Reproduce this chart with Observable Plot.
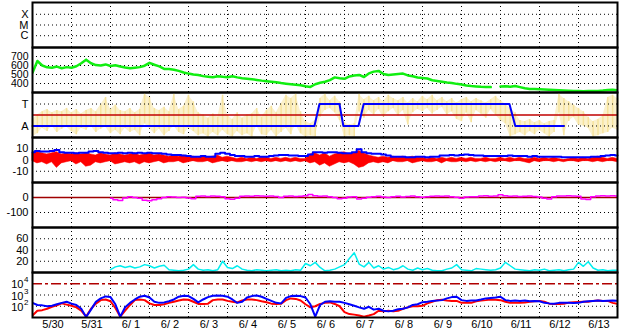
<!DOCTYPE html>
<html><head><meta charset="utf-8">
<script src="https://cdn.jsdelivr.net/npm/d3@7"></script>
<script src="https://cdn.jsdelivr.net/npm/@observablehq/plot@0.6"></script>
<style>
html,body{margin:0;padding:0;background:#fff;}
#chart{position:relative;width:628px;height:334px;overflow:hidden;background:#fff;}
#chart svg{position:absolute;left:0;}
</style></head><body><div id="chart"></div>
<script>
// ---- data (one sample every 3 hours from 5/30 00:00) ----
const dayLabels = ["5/30","5/31","6/ 1","6/ 2","6/ 3","6/ 4","6/ 5","6/ 6","6/ 7","6/ 8","6/ 9","6/10","6/11","6/12","6/13"];
const sampleHours = 3;
const xrayTicks = [1e-4, 1e-5, 1e-6];
const xrayLabels = ["X", "M", "C"];
const speedTicks = [400, 500, 600, 700];
const taTicks = [1, -1];
const taLabels = ["T", "A"];
const bTicks = [10, 0, -10];
const dstTicks = [0, -100];
const cyanTicks = [20, 40, 60];
const logTicks = [1e4, 1e3, 1e2];
const logExp = ["4", "3", "2"];

const speed = [520,650,600,580,575,588,570,582,575,592,
625,665,625,605,600,612,595,602,588,578,
570,576,582,598,630,608,590,562,560,553,
540,522,510,500,494,482,476,470,480,474,
470,480,468,458,452,446,440,432,426,420,
414,405,398,392,386,380,370,362,392,408,
420,438,468,458,452,478,488,495,472,512,
532,540,505,495,500,506,510,490,480,466,
462,455,436,428,420,412,406,396,388,378,
372,368,364,362,360,null,366,370,365,372,
360,348,340,338,335,333,330,328,325,322,
320,318,316,315,316,317,318,322,328,330,
325];

const yellowHi = [-0.4,0,0.3,0.5,0.2,0.4,0.3,0.6,0.2,0.5,
0.1,0.4,0.6,0.3,0.9,1.6,0.5,0.9,0.4,0.3,
0.6,0.2,0.5,1.9,1.6,0.6,0.4,0.7,0.3,1.9,
0.5,0.8,1.8,1.2,0.2,0,-0.3,0.1,-0.2,1.8,
0,-0.4,0.2,-0.3,0,0.1,0.6,-0.2,0.4,0.8,
0.2,1,1.8,1.5,1.9,0.3,-0.6,-0.8,-0.5,1.5,
1.9,1.3,1.7,1.2,-0.7,-0.9,-0.8,1.9,1.4,1.7,
1.3,1.6,1.2,1.8,1.5,1.3,1.6,1.1,1.5,1.2,
1.7,1.4,1.8,1.3,1.6,1.2,1.5,1.1,1.4,1.6,
1.2,1.5,1.3,1.1,1.4,1.7,1.3,1,0.6,0.2,
-0.5,-0.6,-0.4,-0.7,-0.5,-0.8,-0.6,-0.5,1.9,1.5,
1.2,0.9,0.6,0.3,-0.2,-0.6,-0.4,-0.1,1.6,1.8,
1.5];
const yellowLo = [-2,-1.7,-1.2,-1.5,-1,-1.6,-1.3,-1.1,-1.5,-1.8,
-1.2,-1.4,-1,-1.6,-1.3,-1.1,-1.7,-1.4,-1.8,-1.2,
-1.6,-1.4,-1.9,-0.8,-1.2,-1.7,-1.3,-1.9,-1.5,-1,
-1.6,-1.8,-1.2,-1.5,-1.9,-1.7,-2,-1.6,-1.9,-1.4,
-1.8,-2,-1.5,-1.9,-1.7,-2,-1,-1.8,-1.9,-1.4,
-2,-1.6,-1.2,-1.8,-0.9,-1.7,-2,-1.9,-2,-0.2,
0.4,0.6,0.2,-0.5,-2,-1.9,-2,0.3,-0.3,0.4,
0,0.5,-0.2,0.3,0.6,-0.1,0.4,-0.9,0.2,0.5,
0.3,0.6,0.1,0.4,0.7,0,0.3,-0.4,-0.6,0.2,
-0.7,0.4,0.1,-0.3,0.5,0,-0.5,-0.8,-2,-1.8,
-1.6,-1.9,-1.5,-1.8,-1.4,-1.7,-2,-1.6,0.2,-1.9,
-0.6,-0.2,-0.9,-1,-1.2,-2,-1.9,-1.7,-1.6,-1.2,
-1.4];
// T/A state line (hours, level)
const taHours = [0, 173.5, 176.6, 188.9, 191.3, 200.6, 203.8, 293.5, 297.1, 326.9];
const taLevel = [-1, -1, 1, 1, -1, -1, 1, 1, -1, -1];

const bt = [7,8,7.5,7.5,8,9,7,6.5,6.5,6,
6.5,6.5,7.5,8,7,6.5,6,6,6.5,6,
6.5,6,6.5,6,6.5,6,6,5.5,5,4.5,
4.5,4,3.5,3,3,3.5,3,3,5.5,6.5,
5.5,4.5,3.5,3.5,3,3,3.5,3,3,3.5,
4,4.5,4.5,4,4,3.5,3.5,5,7,7,
6.5,7,7,6.5,6,6,7,9.5,7,6,
5.5,5.5,5,4,3,3,3,2.5,2.5,3,
3,2.5,3,3,4,4,4.5,4,4.5,5,
4.5,4,4,3.5,3.5,3.5,3.5,3.5,4,3.5,
3.5,3.5,3,3.5,3,3,3,3,3,2.5,
2.5,2.5,2.5,2.5,2.5,3,3,3.5,4,4.5,
4];
const bzHi = [6,7,6,5,6,7,5,6,5,6,
5,6,5,4,6,5,4,6,5,4,
5,6,4,5,6,4,5,4,3,4,
3,4,3,3,2,3,2,3,4,2,
3,2,1,2,1,2,1,2,2,1,
2,1,2,1,2,1,1,5,6,4,
6,3,5,6,7,5,6,8,6,4,
3,2,3,2,3,2,3,2,3,2,
2,1,2,1,2,1,2,1,2,1,
2,1,1,2,1,1,2,1,2,1,
2,1,1,2,1,2,1,2,1,0,
1,2,1,2,1,2,3,2,1,2,
1];
const bzLo = [-1,-3,-2,-4,-2,-7,-3,-2,-1,-4,
-2,-6,-5,-2,-3,-2,-1,-4,-3,-2,
-3,-2,-4,-2,-3,-2,-1,-3,-2,-2,
-1,-3,-2,-1,-2,-2,-1,-3,-2,-1,
-2,-1,-2,-2,-1,-2,-1,-2,-1,-2,
-1,-2,-1,-2,-1,-2,-1,-3,-2,-5,
-3,-6,-4,-2,-3,-2,-4,-7,-6,-3,
-2,-3,-2,-3,-1,-2,-2,-1,-3,-2,
-1,-2,-2,-1,-3,-1,-2,-2,-1,-2,
-1,-2,-1,-2,-1,-2,-1,-1,-2,-1,
-1,-2,-3,-1,-2,-1,-1,-2,-1,-2,
-1,-1,-2,-1,-1,-2,-1,-2,-1,-1,
-2];

const dst = [null,null,null,null,null,null,null,null,null,null,
null,null,null,null,null,null,-5,-15,-20,-3,
5,0,-5,-18,-22,-15,-8,0,5,3,
0,2,-3,-8,8,10,6,10,8,5,
-8,-12,-5,8,10,9,12,10,8,10,
6,0,8,10,7,9,12,20,12,8,
10,5,0,-8,-5,3,5,-10,-5,2,
5,8,3,0,5,8,4,6,10,5,
2,5,8,10,8,10,5,2,-5,4,
5,5,10,12,8,10,18,12,8,10,
6,8,10,6,4,-5,-10,5,10,10,
12,10,8,-10,-13,5,10,12,10,12,
10];

const cyan = [null,null,null,null,null,null,null,null,null,null,
null,null,null,null,null,null,5,10,12,9,
11,8,10,14,12,8,11,13,5,4,
3,4,6,14,6,4,5,3,5,20,
9,7,12,6,4,3,5,4,3,4,
5,3,4,3,5,4,16,12,18,9,
3,4,6,10,14,25,35,15,10,18,
8,12,6,9,5,7,12,6,4,8,
5,7,4,3,3,6,8,14,5,4,
3,7,6,5,4,5,8,18,12,6,
5,4,3,5,4,6,3,4,5,3,
5,6,18,11,19,8,4,5,3,4,
4];

const fluxBlue = [200,130,120,100,110,150,200,250,170,130,
60,11,50,250,500,750,650,150,12,80,
200,400,700,850,600,250,200,220,280,400,
700,850,800,450,220,400,650,850,900,850,
700,400,200,250,600,800,900,700,450,300,
200,180,550,800,850,800,600,150,12,130,
250,280,250,250,200,150,110,80,60,90,
50,60,40,35,40,55,60,80,130,150,
230,250,300,320,350,500,650,700,350,300,
320,330,400,500,550,600,700,350,300,320,
300,330,280,300,280,200,180,170,200,210,
200,190,200,250,280,300,320,300,310,320,
300];
const fluxRed = [15,40,45,60,90,120,180,140,110,80,
40,12,60,170,350,400,280,70,12,40,
130,350,400,350,180,130,130,150,200,250,
320,400,380,250,160,160,170,350,400,400,
300,250,220,330,400,400,350,280,230,170,
160,170,350,500,450,320,150,80,100,160,
200,220,160,100,30,20,18,15,12,15,
20,40,35,40,35,40,60,80,100,100,
110,180,250,350,380,320,300,300,200,200,
200,280,320,350,400,380,350,250,200,200,
200,220,250,280,300,250,170,160,160,170,
210,230,240,250,250,300,320,300,300,200,
160];
const fluxLimit = [1e4];

// ---- layout / drawing ----
const W = 628, PH = 45, TOP = 2, ML = 32, MR = 11, AX = 17;
const FONT = "'Liberation Sans', Arial, Helvetica, sans-serif";
const idx = d3.range(speed.length);
const hr = i => i * sampleHours;
const dayLines = d3.range(1, dayLabels.length).map(d => d * 24);
const chart = document.getElementById("chart");

const grid = vals => Plot.ruleY(vals, {y: d => d, stroke: "black", strokeWidth: 1, strokeDasharray: "1,3"});
const ylab = (vals, labels, size = 11) => Plot.text(vals, {y: d => d, text: (d, i) => labels ? labels[i] : String(d),
  frameAnchor: "left", textAnchor: "end", dx: -4, fontSize: size, fill: "black"});

function panel(k, y, marks) {
  const last = k === 6;
  const svg = Plot.plot({
    width: W, height: PH + 2 + (last ? AX : 0),
    marginLeft: ML, marginRight: MR, marginTop: 1, marginBottom: 1 + (last ? AX : 0),
    x: {domain: [0, dayLabels.length * 24], axis: null},
    y: {...y, axis: null},
    style: {background: "transparent", fontFamily: FONT, fontSize: "11px", color: "black", overflow: "visible"},
    marks: [
      Plot.ruleX(dayLines, {x: d => d, stroke: "black", strokeWidth: 1, strokeDasharray: "1,3"}),
      ...marks,
      Plot.frame({stroke: "black", strokeWidth: 2}),
      ...(last ? [Plot.text(dayLabels, {x: (d, i) => i * 24 + 12, text: d => d, frameAnchor: "bottom",
        lineAnchor: "top", dy: 3, dx: 1, fontSize: 11, fill: "black"})] : [])
    ]
  });
  svg.style.top = (TOP + PH * k - 1) + "px";
  chart.appendChild(svg);
}

// 1: X-ray class
panel(0, {type: "log", domain: [Math.pow(10, -7.1), Math.pow(10, -2.9)]}, [
  grid(xrayTicks), ylab(xrayTicks, xrayLabels)
]);
// 2: solar wind speed
panel(1, {domain: [300, 800]}, [
  grid(speedTicks), ylab(speedTicks, null, 10.5),
  Plot.line(idx, {x: hr, y: i => speed[i], stroke: "#11ee11", strokeWidth: 2.5, clip: true})
]);
// 3: T/A
panel(2, {domain: [-2.05, 2.05]}, [
  Plot.areaY(idx, {x: hr, y1: i => yellowLo[i], y2: i => yellowHi[i], fill: "#fbf1cc"}),
  Plot.ruleX(idx, {x: hr, y1: i => yellowLo[i], y2: i => yellowHi[i], stroke: "#f6e39e", strokeWidth: 1.5}),
  grid(taTicks), ylab(taTicks, taLabels),
  Plot.ruleY([0], {stroke: "#c00000", strokeWidth: 1.5}),
  Plot.line(taHours, {x: d => d, y: (d, i) => taLevel[i], stroke: "#0000ff", strokeWidth: 2})
]);
// 4: IMF
panel(3, {domain: [-20, 20]}, [
  grid(bTicks), ylab(bTicks),
  Plot.ruleY([0], {stroke: "#c00000", strokeWidth: 1}),
  Plot.areaY(idx, {x: hr, y1: i => bzLo[i], y2: i => bzHi[i], fill: "#ff0000", stroke: "#ff0000", strokeWidth: 0.5}),
  Plot.line(idx, {x: hr, y: i => bt[i], stroke: "#0000ff", strokeWidth: 2, curve: "step"})
]);
// 5: Dst-like
panel(4, {domain: [-200, 100]}, [
  grid([-100]), ylab(dstTicks),
  Plot.ruleY([0], {stroke: "#a00000", strokeWidth: 1.5}),
  Plot.line(idx, {x: hr, y: i => dst[i], stroke: "#ff00ff", strokeWidth: 1.5, curve: "step"})
]);
// 6: cyan index
panel(5, {domain: [0, 80]}, [
  grid(cyanTicks), ylab(cyanTicks),
  Plot.line(idx, {x: hr, y: i => cyan[i], stroke: "#00eeee", strokeWidth: 1.5})
]);
// 7: particle flux (log)
panel(6, {type: "log", domain: [10, 1e5]}, [
  grid([1e3, 1e2]),
  Plot.text(logTicks, {y: d => d, text: () => "10", frameAnchor: "left", textAnchor: "end", dx: -9, dy: 1, fontSize: 11, fill: "black"}),
  Plot.text(logTicks, {y: d => d, text: (d, i) => logExp[i], frameAnchor: "left", textAnchor: "end", dx: -4, dy: -4, fontSize: 8, fill: "black"}),
  Plot.ruleY(fluxLimit, {y: d => d, stroke: "#b00000", strokeWidth: 1.5, strokeDasharray: "10,3,3,3"}),
  Plot.line(idx, {x: hr, y: i => fluxRed[i], stroke: "#ff0000", strokeWidth: 2, clip: true}),
  Plot.line(idx, {x: hr, y: i => fluxBlue[i], stroke: "#0000ff", strokeWidth: 2, clip: true})
]);
</script></body></html>
